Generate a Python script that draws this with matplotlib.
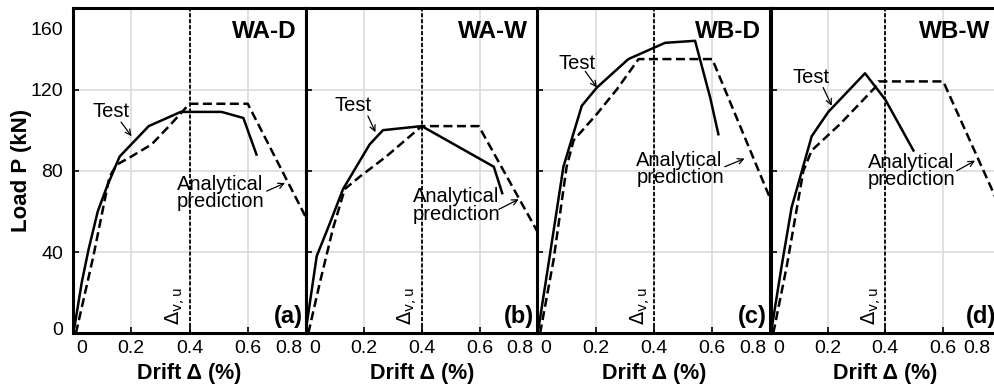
"""
Load-drift curves of four wall specimens: test vs analytical prediction
"""

import matplotlib.pyplot as plt
from matplotlib.transforms import ScaledTranslation

plt.rcParams['font.family'] = ['Liberation Sans', 'DejaVu Sans']

# Data
panel_names = ['WA-D', 'WA-W', 'WB-D', 'WB-W']
panel_tags = ['(a)', '(b)', '(c)', '(d)']

test_drift = [
    [0.005, 0.03, 0.053, 0.085, 0.116, 0.16, 0.26, 0.37, 0.51, 0.585, 0.63],
    [0.0, 0.037, 0.082, 0.128, 0.22, 0.266, 0.40, 0.649, 0.678],
    [0.003, 0.043, 0.089, 0.152, 0.204, 0.312, 0.438, 0.541, 0.593, 0.621],
    [0.003, 0.038, 0.073, 0.143, 0.201, 0.329, 0.40, 0.498],
]
test_load = [
    [3, 25, 41, 60, 72, 87, 102, 109, 109, 106, 88],
    [2, 38, 54, 71, 93, 100, 102, 82, 69],
    [2, 39, 82, 112, 121, 135, 143, 144, 116, 98],
    [2, 33, 62, 97, 109, 128, 115, 90],
]

pred_drift = [
    [0.01, 0.07, 0.125, 0.15, 0.2, 0.27, 0.33, 0.40, 0.60, 0.80],
    [0.008, 0.048, 0.094, 0.134, 0.185, 0.277, 0.40, 0.597, 0.80],
    [0.009, 0.055, 0.10, 0.124, 0.204, 0.272, 0.347, 0.60, 0.80],
    [0.009, 0.056, 0.114, 0.143, 0.242, 0.364, 0.376, 0.602, 0.80],
]
pred_load = [
    [0, 38, 77, 83, 87, 93, 102, 113, 113, 57],
    [0, 25, 52, 71, 77, 87, 102, 102, 50],
    [0, 36, 82, 95, 108, 120, 135, 135, 66],
    [0, 33, 80, 90, 103, 121, 124, 124, 62],
]

delta_vu = 0.4

# label / arrow anchors (text xy, arrow start, arrow tip)
test_text = [(0.130, 109), (0.164, 112), (0.135, 133), (0.140, 126)]
test_arrow = [((0.165, 104), (0.201, 97)), ((0.214, 107), (0.240, 99)),
              ((0.164, 129), (0.204, 121)), ((0.183, 121), (0.213, 112))]
pred_text = [(0.357, 69), (0.368, 63), (0.339, 81), (0.340, 80)]
pred_arrow = [((0.665, 70), (0.728, 74)), ((0.666, 61), (0.735, 66)),
              ((0.643, 82), (0.711, 86)), ((0.649, 80), (0.713, 85))]


def shift(fig, label, dx, dy):
    # move a tick label by a few pixels
    label.set_transform(label.get_transform() +
                        ScaledTranslation(dx / 100, dy / 100,
                                          fig.dpi_scale_trans))


def plot_panels():
    fig = plt.figure(figsize=(9.95, 3.87), dpi=100)
    W, H = 995.0, 387.0
    lefts = [73, 306, 537.5, 770.7]
    widths = [233, 231.5, 233, 229.3]
    last_shift = [-4, -4, -4, -10]
    bottom, top = 333.3, 8.3

    for i in range(4):
        ax = fig.add_axes([lefts[i] / W, 1 - bottom / H,
                           widths[i] / W, (bottom - top) / H])
        ax.set_xlim(0, 0.8)
        ax.set_ylim(0, 160)
        ax.set_xticks([0, 0.2, 0.4, 0.6, 0.8])
        ax.set_yticks([0, 40, 80, 120, 160])
        ax.grid(True, color='#dcdcdc', linewidth=1.2)
        ax.set_axisbelow(True)
        for s in ax.spines.values():
            s.set_linewidth(2.2)
        ax.tick_params(direction='in', length=4, width=1.2, labelsize=14)
        ax.tick_params(axis='x', pad=5)
        ax.tick_params(axis='y', pad=7)

        ax.set_xticklabels(['0', '0.2', '0.4', '0.6', '0.8'])
        labs = ax.get_xticklabels()
        labs[0].set_horizontalalignment('left')
        shift(fig, labs[0], 3, 0)
        labs[-1].set_horizontalalignment('right')
        shift(fig, labs[-1], last_shift[i], 0)
        if i == 0:
            ax.set_ylabel('Load P (kN)', fontsize=16, fontweight='bold',
                          labelpad=-1)
            ylabs = ax.get_yticklabels()
            shift(fig, ylabs[0], 0, 5)
            shift(fig, ylabs[-1], 0, -20)
        else:
            ax.set_yticklabels([])
        ax.set_xlabel('Drift Δ (%)', fontsize=15.5, fontweight='bold',
                      labelpad=4)

        # curves
        ax.plot(test_drift[i], test_load[i], color='black', linewidth=1.8)
        ax.plot(pred_drift[i], pred_load[i], color='black', linewidth=1.8,
                linestyle=(0, (3.6, 1.8)))
        ax.axvline(delta_vu, color='black', linewidth=1.3,
                   linestyle=(0, (2.2, 1.1)))

        # texts
        ax.text(0.96, 0.965, panel_names[i], transform=ax.transAxes,
                ha='right', va='top', fontsize=17.5, fontweight='bold')
        ax.text(0.985, 0.015, panel_tags[i], transform=ax.transAxes,
                ha='right', va='bottom', fontsize=17, fontweight='bold')
        ax.text(delta_vu - 0.008, 4, r'$\Delta_{\mathrm{v,u}}$', rotation=90,
                ha='right', va='bottom', fontsize=14)

        ax.text(test_text[i][0], test_text[i][1], 'Test', ha='center',
                va='center', fontsize=14.5)
        ax.annotate('', xy=test_arrow[i][1], xytext=test_arrow[i][0],
                    arrowprops=dict(arrowstyle='->', color='black', lw=0.9,
                                    shrinkA=0, shrinkB=0))
        ax.text(pred_text[i][0], pred_text[i][1], 'Analytical\nprediction',
                ha='left', va='center', fontsize=14.5, linespacing=0.9)
        ax.annotate('', xy=pred_arrow[i][1], xytext=pred_arrow[i][0],
                    arrowprops=dict(arrowstyle='->', color='black', lw=0.9,
                                    shrinkA=0, shrinkB=0))

    fig.savefig('out.png', dpi=100)


if __name__ == "__main__":
    plot_panels()
